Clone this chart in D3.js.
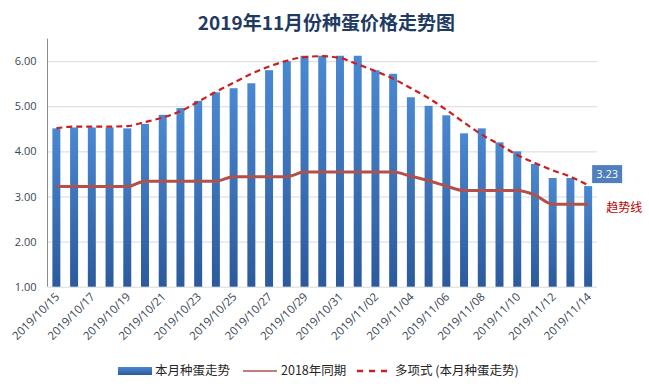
<!DOCTYPE html>
<html>
<head>
<meta charset="utf-8">
<script src="https://cdn.jsdelivr.net/npm/d3@7"></script>
<style>
    body { margin: 0; background: #fff; }
    text { font-family: "Noto Sans CJK SC", "Noto Sans", sans-serif; }
</style>
</head>
<body>
<div id="graph"></div>
<script>
// Data
const dates = [
    "2019/10/15", "2019/10/16", "2019/10/17", "2019/10/18", "2019/10/19", "2019/10/20",
    "2019/10/21", "2019/10/22", "2019/10/23", "2019/10/24", "2019/10/25", "2019/10/26",
    "2019/10/27", "2019/10/28", "2019/10/29", "2019/10/30", "2019/10/31", "2019/11/01",
    "2019/11/02", "2019/11/03", "2019/11/04", "2019/11/05", "2019/11/06", "2019/11/07",
    "2019/11/08", "2019/11/09", "2019/11/10", "2019/11/11", "2019/11/12", "2019/11/13",
    "2019/11/14"
];
const thisMonth = [
    4.51, 4.53, 4.53, 4.53, 4.51, 4.61, 4.81, 4.96, 5.12, 5.31, 5.40, 5.51, 5.80, 6.00, 6.12, 6.12,
    6.12, 6.12, 5.80, 5.72, 5.20, 5.01, 4.80, 4.40, 4.51, 4.20, 4.00, 3.72, 3.41, 3.41, 3.23
];
const lastYear = [
    3.22, 3.22, 3.22, 3.22, 3.22, 3.34, 3.34, 3.34, 3.34, 3.34, 3.44, 3.44, 3.44, 3.44, 3.54, 3.54,
    3.54, 3.54, 3.54, 3.54, 3.45, 3.35, 3.23, 3.13, 3.13, 3.13, 3.13, 3.03, 2.83, 2.83, 2.83
];
const trend = [
    4.51, 4.55, 4.55, 4.55, 4.56, 4.65, 4.75, 4.89, 5.10, 5.32, 5.52, 5.72, 5.88, 6.01, 6.09, 6.11,
    6.07, 5.93, 5.78, 5.61, 5.40, 5.18, 4.92, 4.64, 4.37, 4.15, 3.92, 3.74, 3.58, 3.44, 3.25
];
const yTicks = [1, 2, 3, 4, 5, 6];
const seriesNames = ["本月种蛋走势", "2018年同期", "多项式 (本月种蛋走势)"];
const title = "2019年11月份种蛋价格走势图";

const chart = {
    init: function (width, height) {
        this.width = width;
        this.height = height;
        this.plot = { left: 47.5, right: 597, top: 38.6, bottom: 286.7 };

        this.svg = d3.select("#graph").append("svg")
            .attr("width", width)
            .attr("height", height);

        // Gradient used by the bars and the legend swatch
        const grad = this.svg.append("defs").append("linearGradient")
            .attr("id", "barGrad")
            .attr("x1", 0).attr("y1", 0).attr("x2", 0).attr("y2", 1);
        grad.append("stop").attr("offset", "0%").attr("stop-color", "#4a88d2");
        grad.append("stop").attr("offset", "100%").attr("stop-color", "#2c5a9c");

        this.x = d3.scaleBand()
            .domain(dates)
            .range([this.plot.left, this.plot.right])
            .paddingInner(0.55)
            .paddingOuter(0.275);

        this.y = d3.scaleLinear()
            .domain([1, 6.5])
            .range([this.plot.bottom, this.plot.top]);

        this.drawTitle();
        this.drawAxes();
        this.drawSeries();
        this.drawLegend();
    },

    drawTitle: function () {
        this.svg.append("text")
            .attr("x", this.width / 2 + 2)
            .attr("y", 30)
            .attr("text-anchor", "middle")
            .attr("font-size", 19)
            .attr("font-weight", "bold")
            .attr("fill", "#1f3b63")
            .text(title);
    },

    drawAxes: function () {
        const p = this.plot;

        // Horizontal gridlines
        const grid = this.svg.append("g")
            .attr("transform", `translate(${p.left}, 0)`)
            .call(d3.axisLeft(this.y).tickValues(yTicks).tickSize(-(p.right - p.left)).tickFormat(""));
        grid.select(".domain").remove();
        grid.selectAll("line").attr("stroke", "#d9d9d9");

        // Y labels
        const left = this.svg.append("g")
            .attr("transform", `translate(${p.left}, 0)`)
            .call(d3.axisLeft(this.y).tickValues(yTicks).tickSize(0).tickPadding(11).tickFormat(d3.format(".2f")));
        left.select(".domain").remove();
        left.selectAll("text")
            .attr("font-size", 11)
            .attr("fill", "#3a4656")
            .style("font-family", "'Open Sans', sans-serif");

        this.svg.append("line")
            .attr("x1", p.left).attr("x2", p.left)
            .attr("y1", p.top).attr("y2", p.bottom)
            .attr("stroke", "#8c8c8c");

        // X labels, every other day
        const bottom = this.svg.append("g")
            .attr("transform", `translate(0, ${p.bottom})`)
            .call(d3.axisBottom(this.x).tickValues(dates.filter((d, i) => i % 2 === 0)).tickSize(0).tickFormat(d => d));
        bottom.select(".domain").remove();
        bottom.selectAll("text")
            .attr("text-anchor", "end")
            .attr("font-size", 11.5)
            .attr("fill", "#3a4656")
            .style("font-family", "'Open Sans', sans-serif")
            .attr("transform", "translate(1, 8) rotate(-45)")
            .attr("dy", "0.35em")
            .attr("y", 0);
    },

    drawSeries: function () {
        const x = this.x, y = this.y;
        const cx = d => x(d) + x.bandwidth() / 2;

        this.svg.append("g").selectAll("rect")
            .data(thisMonth)
            .join("rect")
            .attr("x", (d, i) => x(dates[i]))
            .attr("y", d => y(d))
            .attr("width", x.bandwidth())
            .attr("height", d => y(1) - y(d))
            .attr("fill", "url(#barGrad)");

        const line = d3.line()
            .x((d, i) => cx(dates[i]))
            .y(d => y(d))
            .curve(d3.curveMonotoneX);

        this.svg.append("path")
            .datum(lastYear)
            .attr("d", line)
            .attr("fill", "none")
            .attr("stroke", "#b2504b")
            .attr("stroke-width", 3);

        this.svg.append("path")
            .datum(trend)
            .attr("d", line)
            .attr("fill", "none")
            .attr("stroke", "#cc1e1e")
            .attr("stroke-width", 2.2)
            .attr("stroke-dasharray", "6,4");

        // Last value label
        const last = thisMonth.length - 1;
        const lx = cx(dates[last]) + 4;
        const ly = y(thisMonth[last]) - 21;
        this.svg.append("rect")
            .attr("x", lx).attr("y", ly)
            .attr("width", 30).attr("height", 18)
            .attr("fill", "#4f7fbd");
        this.svg.append("text")
            .attr("x", lx + 15).attr("y", ly + 13)
            .attr("text-anchor", "middle")
            .attr("font-size", 11)
            .attr("fill", "#fff")
            .style("font-family", "'Open Sans', sans-serif")
            .text(d3.format(".2f")(thisMonth[last]));

        this.svg.append("text")
            .attr("x", lx + 32).attr("y", y(lastYear[last]) + 8)
            .attr("text-anchor", "middle")
            .attr("font-size", 12)
            .attr("fill", "#c00000")
            .text("趋势线");
    },

    drawLegend: function () {
        const g = this.svg.append("g").attr("transform", "translate(0, 371)");

        g.append("rect")
            .attr("x", 118).attr("y", -4)
            .attr("width", 34).attr("height", 8)
            .attr("fill", "url(#barGrad)");
        g.append("line")
            .attr("x1", 243).attr("x2", 277)
            .attr("stroke", "#a85249").attr("stroke-width", 1.5);
        g.append("line")
            .attr("x1", 357).attr("x2", 392)
            .attr("stroke", "#cc1e1e").attr("stroke-width", 2.5)
            .attr("stroke-dasharray", "6,6");

        const textX = [155, 281, 395];
        g.selectAll("text.legend")
            .data(seriesNames)
            .join("text")
            .attr("class", "legend")
            .attr("x", (d, i) => textX[i])
            .attr("dy", "0.35em")
            .attr("font-size", 12.5)
            .attr("fill", "#262626")
            .text(d => d);
    }
};

document.addEventListener("DOMContentLoaded", function () {
    chart.init(649, 389);
});
</script>
</body>
</html>
